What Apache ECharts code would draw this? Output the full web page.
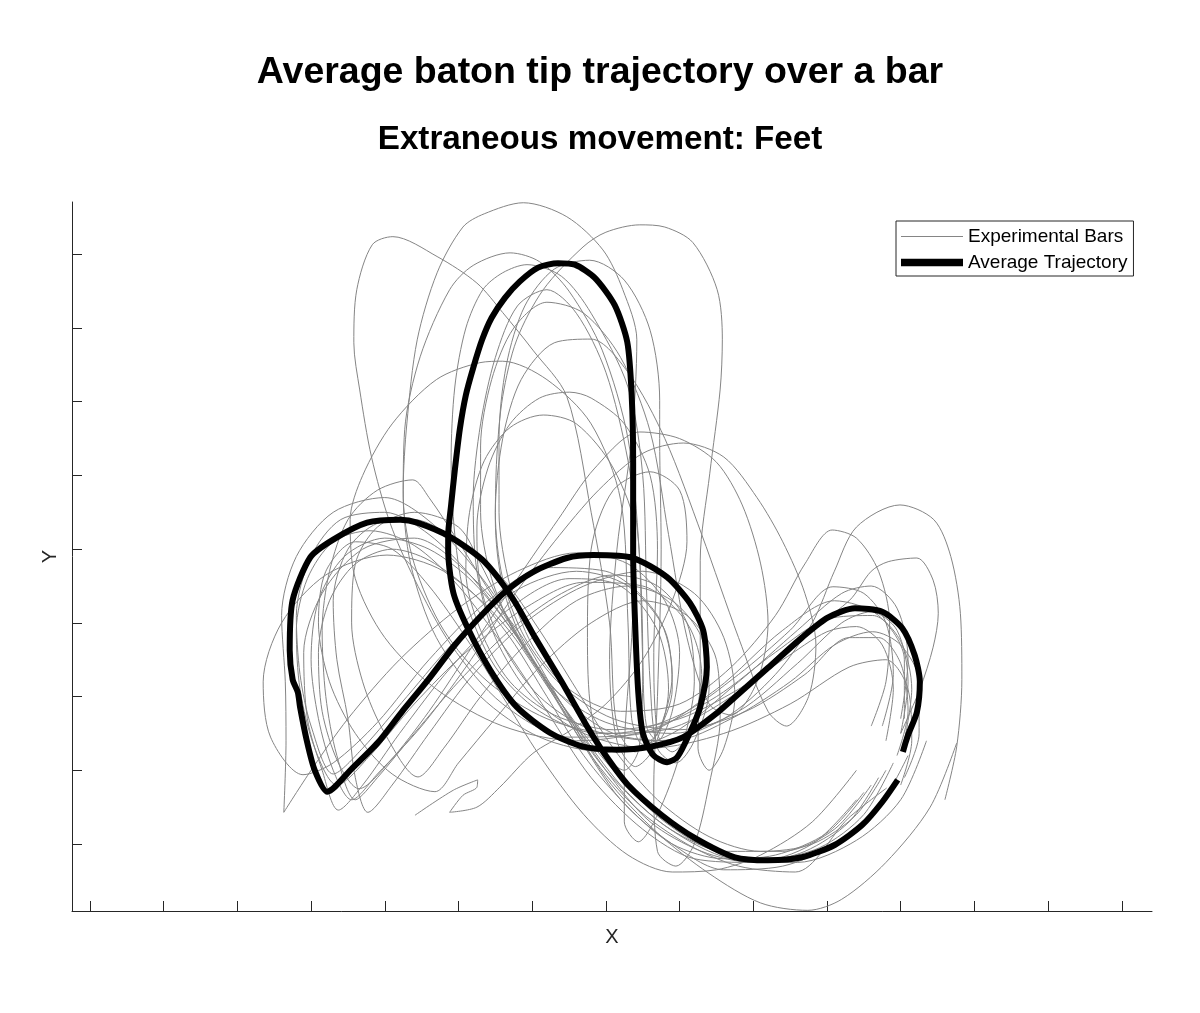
<!DOCTYPE html>
<html><head><meta charset="utf-8">
<script src="https://cdn.jsdelivr.net/npm/echarts@6/dist/echarts.min.js"></script>
<style>html,body{margin:0;padding:0;background:#fff}#c{width:1200px;height:1013px}</style>
</head><body><div id="c"></div>
<script>
const titleText = 'Average baton tip trajectory over a bar';
const subtitleText = 'Extraneous movement: Feet';
const legendNames = ['Experimental Bars', 'Average Trajectory'];
const xTicks = [0,10,20,30,40,50,60,70,80,90,100,110,120,130,140];
const yTicks = [0,10,20,30,40,50,60,70,80];
const xRange = [-2.44, 144.1];
const yRange = [-9.09, 87.1];

const average = [[109.6,8.7],[107.5,5.7],[104.8,2.6],[101.1,-0.1],[96.6,-1.8],[92.0,-2.2],[87.5,-1.8],[82.1,0.8],[77.6,3.9],[73.0,8.0],[69.9,12.1],[67.6,15.7],[64.0,22.0],[60.4,28.0],[57.3,33.4],[53.3,38.5],[48.8,41.7],[44.4,43.6],[42.1,44.0],[37.6,43.6],[33.0,41.3],[29.9,38.9],[27.5,33.1],[27.1,26.3],[27.5,22.3],[28.2,20.6],[28.5,18.6],[29.4,14.1],[30.5,10.0],[32.2,7.1],[35.6,10.3],[39.1,13.8],[42.3,17.9],[45.9,22.3],[49.5,27.0],[52.9,30.8],[56.3,34.2],[60.1,36.9],[64.7,38.8],[68.3,39.2],[73.7,38.8],[78.3,36.2],[81.4,32.7],[83.2,29.0],[83.7,24.0],[82.8,18.6],[81.4,15.1],[79.7,11.8],[78.3,11.1],[76.4,12.1],[75.0,15.1],[74.4,20.5],[74.0,29.0],[73.7,39.2],[73.7,51.8],[73.5,60.9],[72.9,68.1],[71.2,73.1],[68.5,76.8],[65.8,78.6],[63.5,78.8],[60.8,78.2],[58.3,76.3],[56.3,74.1],[54.5,71.4],[53.2,68.4],[52.0,64.6],[51.0,60.9],[50.2,56.4],[49.5,50.7],[49.0,46.0],[48.6,41.9],[48.6,39.9],[49.3,34.1],[51.2,29.4],[54.3,23.6],[57.9,18.6],[62.4,15.1],[66.9,13.2],[71.5,12.8],[76.0,13.2],[80.5,14.5],[85.1,17.8],[87.5,19.9],[92.0,23.9],[96.6,28.0],[100.1,30.7],[103.8,32.0],[107.5,31.5],[110.2,29.3],[111.9,25.6],[112.6,22.0],[112.2,17.9],[111.0,14.8],[110.3,12.5]];

const bar01 = [[113.5,14],[110,6],[104,0.5],[96,-2.5],[87,-2],[78,2.5],[70,10],[63,20],[56,30],[48,37],[40.3,39.2],[32,36.5],[26,30],[23.5,22],[24.5,14.5],[28.9,9.4],[33,11],[39,16.5],[46,25],[54,33],[62,37.5],[70,37],[77,31],[79,23],[77,15],[74,12.5],[71.5,16],[70.5,30],[68,45],[64.7,60.7],[60.1,67.0],[56.0,72.1],[52.5,76.1],[47.1,79.7],[41.1,82.4],[38.3,81.3],[36.2,75.2],[35.8,68],[36.6,61.6],[38.2,52.5],[40.7,43.6],[44,36],[49,27],[56,19],[65,14.5],[75,15],[85,21],[94,29],[101,33],[107,31],[110.5,25],[110.5,17]];
const bar02 = [[117.6,13.7],[114,5],[108,-2.5],[102,-7.5],[97.4,-9.0],[91,-8],[84,-4],[77,1.5],[70,9],[64,19],[58,29],[51,37],[44,41.5],[37,40],[31.5,34],[29,26],[29.5,17],[31.5,10],[33.7,4.6],[37,8],[42,15],[49,24],[57,32],[65,36],[72,35],[77,29],[78.5,21],[76.5,13],[74,10.5],[71.5,14],[70.5,25],[71.5,40],[73.5,55],[74.2,68.4],[72.3,75.2],[69.6,80.6],[64.7,85.1],[58.8,87.0],[53.5,85.5],[50.6,83.7],[47.1,77.5],[44.4,68.4],[43.0,57.1],[42.5,48.0],[43.5,38],[47,28],[53,20],[61,14.5],[70,12.5],[79,15],[88,22],[96,29],[102,34],[106,35],[109.5,32],[111,25],[110,17]];
const bar03 = [[108,10],[104,4],[98,0],[91,-1],[84,1],[77,6],[71,13],[66,21],[61,29],[56,36],[50,41],[44,44],[39,43.5],[35,40],[33,33],[33.5,25],[35,17],[36,9],[37.7,4.3],[41,8],[46,15],[52,23],[59,30],[67,35],[75,37],[82,34],[86,28],[87.5,20],[86,13],[84,10],[82.5,13],[82.8,25],[82.8,38.5],[84.1,50.3],[85.5,61.6],[85.8,68.4],[85.1,75.2],[81.8,81.6],[78,83.7],[74.6,84.0],[70,83],[66.9,81.0],[61.5,75.2],[57.9,68.4],[56.0,60.7],[55.2,52.5],[55,44],[56,35],[59,27],[64,20],[71,15],[79,14],[87,17],[95,22],[101,27],[106.2,28.8],[110,27],[112.5,22],[112.5,15],[110.5,9]];
const bar04 = [[111,12],[107,5],[101,0],[94,-3],[86,-3.5],[79,0],[72,6],[66,15],[60,25],[54,35],[47,43],[40,47],[33,45],[28,39],[26,31],[26.5,22],[26.6,14],[26.3,4.3],[30,10],[35,17],[42,25],[50,32],[58,37],[66,39.5],[73,38],[78,33],[80,26],[79,18],[77,14],[75.5,16],[75,25],[74.5,40],[73,55],[69.5,67],[65,75],[61,79],[57.0,80.2],[52,78.5],[48.8,75.2],[44.8,66.1],[42.7,56.2],[42.5,47],[44,38],[48,29],[54,22],[62,17],[71,15],[80,17.5],[88,23],[95,29],[100.8,34.9],[105,34],[108,30],[109,23],[107.5,16]];
const bar05 = [[108.1,7.6],[102.9,3.5],[95.7,-3.8],[88,-3],[81,0],[74,5],[68,12],[62.5,21],[57,30],[53,38],[50,43],[44,45],[39,43],[36,38],[35.5,30],[37,22],[40,15],[44.5,9.1],[48,13],[53,20],[59,27],[66,33],[73,35],[79,33],[83,28],[84,21],[82,14],[79.5,11],[77,13],[76,22],[75.5,35],[75,50],[73,62],[68,72],[64,77],[59.3,78.6],[56,77.5],[53.3,75.2],[51,70],[49.5,62],[49,52],[49.5,42],[51,33],[55,24],[61,18],[69,15],[78,15.5],[87,20],[95,27],[103,33],[106,37],[108.3,38.3],[112.2,38.8],[114.4,35.8],[115.1,31.3],[114.4,26.7],[112.6,21],[110,15]];
const bar06 = [[104,10],[98,3],[91,-1.5],[85,-3.5],[79,-3.8],[73,-1.5],[67,4],[61,12],[56,20],[51,28],[46,35],[41,40],[36,41],[32,37],[31,30],[32.5,22],[36,15],[41,9.5],[46.8,7.1],[50,11],[55,17],[61,24],[68,30],[75,33],[81,31],[85,25],[85.5,17],[84,8],[82,0],[79.5,-3],[77,-1],[76.5,8],[77,20],[77.5,40],[77.3,55],[77.3,60.2],[76,69.7],[72.5,76.5],[67.8,79.2],[63,78],[59,73],[56.5,65],[55.5,55],[55.5,45],[57,35],[60,27],[65,21],[72,18],[80,19],[87,24],[93,31],[97,38],[100.7,42.6],[104,41.5],[107,37],[108.5,30],[108,22],[106,16]];
const bar07 = [[44.1,3.9],[49.3,7.3],[52.6,8.7],[52.5,7.7],[50.6,6.6],[48.8,4.3],[52.5,5.0],[55.6,7.7],[60.1,12.3],[64.7,15.1],[70,19],[75,25],[79,33],[81,41],[80,48],[76,50.5],[71,48],[68,40],[67.5,28],[68,18],[70,12],[72.5,10],[74.5,13],[75,25],[74.5,40],[73,52],[70,64],[66,72],[62,75.2],[58,73],[55,66],[53,57],[52,47],[52.5,37],[55,28],[60,20],[67,15],[76,13],[86,15],[95,19],[103,24],[108,25],[111,21],[111.5,14],[110,8]];
const bar08 = [[106,8],[101,2],[94,-1],[86,-1],[78,3],[71,10],[64,19],[58,28],[52,36],[46,42],[40,45],[34,44],[30,39],[28,31],[28.5,23],[30,16],[33,9.5],[37,13],[43,20],[50,28],[58,34.5],[66,37],[73,35],[78,29],[79,21],[77,15],[75,13.5],[73.5,17],[73,30],[72,46.7],[68,57],[62,63],[56,65.5],[52.9,65.3],[47,63],[41,57],[37,50],[35.3,44],[36,36],[40,28],[47,21],[56,16],[66,14],[76,15.5],[85,20],[93,26],[100,30.5],[106.2,31],[110,27.5],[111.5,21],[110.5,14]];
const bar09 = [[104,6],[98,0],[90,-2.5],[82,-2],[75,2],[68,9],[62,18],[56,27],[50,35],[44,40.5],[38,42.5],[33,41],[29.5,36],[28,29],[28.5,21],[30.5,13],[33.5,8],[38,12],[44,19],[51,26],[59,32],[67,35.5],[75,35],[81,30],[83,23],[81.5,15.5],[79,12.5],[77,15],[76.5,26],[77,40],[76,50],[72.5,57],[68,60.5],[65.1,61.3],[61,60.5],[57,57],[54,51],[52.5,43],[53,35],[56,27],[61,20],[68,15.5],[77,14],[86,17],[93,23],[98,30],[101,37],[104,43],[109.9,46.0],[114.5,44],[116.8,39],[118.1,31.3],[118.3,22.3],[117.6,13.2],[116,6]];
const bar10 = [[109,11],[105,4],[99,-0.5],[92,-2],[85,-1],[78,2.5],[72,8],[66,16],[60,25],[55,33],[50,41],[46,47],[43.8,49.4],[39,48],[35,44],[32.5,37],[31.5,29],[32,20],[33.5,12],[36,6],[39,9],[44,15],[50,22],[57,29],[64,34],[71,36.5],[77,35],[81,30],[82,22],[80,12],[77,4],[74.4,0.3],[72.5,3],[72.5,12],[73.5,28],[74,42],[71,51],[66,57],[61.5,58.2],[57,56.5],[53.5,52],[51.5,45],[51,37],[53,29],[57,22],[63,17.5],[71,15.5],[80,17],[88,21],[94,25],[100,28.8],[104,29.5],[107.5,27],[109,21],[108,14]];
const bar11 = [[107,9],[103,3],[97,-1],[90,-2.5],[83,-1],[76,3],[70,10],[64,19],[58,28],[52,35.5],[46,40],[40,41.5],[34.5,39],[31,33],[30,25],[31,17],[33,10],[35.5,6],[39,9.5],[45,16],[51,24],[57,33],[63,41],[69,48],[75,53],[80.5,54.4],[86,52.5],[90.5,47],[94,41],[97,34],[98.5,27],[97.5,20],[94.5,16],[92,18],[88,28],[83,42],[78,55],[73,64],[68,68.5],[63,68],[58.5,63],[56,55],[55,45],[56,36],[59,28],[64,21.5],[71,17],[80,15.5],[89,18],[97,23],[103,28],[107,28],[110,24.5],[111,18],[109.5,12]];
const bar12 = [[105,7],[100,1.5],[93,-1.5],[86,-2],[79,0],[73,5],[67,12],[62,20],[57,28],[52,34],[46,38.5],[41,40],[36,38],[32.5,33],[31,26],[31.5,18],[33.7,11],[36.5,7.5],[40.5,11],[46,18],[52,27],[58,36],[63.5,44],[68.5,51],[74.6,55.9],[80,55],[85,51.8],[88.5,46],[91,38],[92,30],[90.5,22],[87,17.5],[84,19],[81,28],[78.5,42],[76,56],[72,66],[67,72],[62,73.5],[57.5,70],[54.5,63],[53,54],[53,45],[54.5,36],[58,28],[63,21],[70,16.5],[79,15],[88,18],[96,24.5],[102,30],[106,31.5],[109.5,29],[111,22],[110,15]];

const experimentalBars = [bar01,bar02,bar03,bar04,bar05,bar06,bar07,bar08,bar09,bar10,bar11,bar12];

const GRAY = '#858585';
const AXIS = '#262626';
const FONT = 'Liberation Sans, Arial, sans-serif';

const series = experimentalBars.map(d => ({
  type: 'line', name: legendNames[0], data: d,
  showSymbol: false, symbol: 'none', smooth: 0.3, silent: true,
  lineStyle: { color: GRAY, width: 1 }, itemStyle: { color: GRAY }
}));
series.push({
  type: 'line', name: legendNames[1], data: average,
  showSymbol: false, symbol: 'none', smooth: 0.25, silent: true,
  lineStyle: { color: '#000', width: 6, join: 'round' }, itemStyle: { color: '#000' }
});

const chart = echarts.init(document.getElementById('c'), null, { renderer: 'canvas' });
chart.setOption({
  animation: false,
  backgroundColor: '#fff',
  title: [
    { text: titleText, left: 'center', top: 49, padding: 5,
      textStyle: { fontFamily: FONT, fontSize: 37.5, fontWeight: 'bold', color: '#000', lineHeight: 38 } },
    { text: subtitleText, left: 'center', top: 118, padding: 5,
      textStyle: { fontFamily: FONT, fontSize: 33.2, fontWeight: 'bold', color: '#000', lineHeight: 34 } }
  ],
  legend: {
    show: true,
    orient: 'vertical', left: 896, top: 221,
    padding: [6, 6, 4, 5], itemGap: 7, itemWidth: 62, itemHeight: 14,
    borderColor: AXIS, borderWidth: 1, backgroundColor: '#fff',
    textStyle: { fontFamily: FONT, fontSize: 19, color: '#000' },
    selectedMode: false,
    data: [
      { name: legendNames[0], icon: 'path://M0,0L0.01,0L0,0.01ZM62,14L61.99,14L62,13.99ZM0,6.4L62,6.4L62,7.6L0,7.6Z',
        itemStyle: { color: GRAY, borderWidth: 0 } },
      { name: legendNames[1], icon: 'path://M0,0L0.01,0L0,0.01ZM62,14L61.99,14L62,13.99ZM0,3.3L62,3.3L62,10.7L0,10.7Z',
        itemStyle: { color: '#000', borderWidth: 0 } }
    ]
  },
  grid: { left: 72, right: 48, top: 202, bottom: 102, containLabel: false },
  xAxis: {
    type: 'value', min: xRange[0], max: xRange[1],
    name: 'X', nameLocation: 'middle', nameGap: 16,
    nameTextStyle: { fontFamily: FONT, fontSize: 20, color: '#262626' },
    axisLine: { show: true, onZero: false, lineStyle: { color: AXIS, width: 1 } },
    axisTick: { show: true, inside: true, length: 10, customValues: xTicks, lineStyle: { color: AXIS, width: 1 } },
    axisLabel: { show: false },
    splitLine: { show: false }
  },
  yAxis: {
    type: 'value', min: yRange[0], max: yRange[1],
    name: 'Y', nameLocation: 'middle', nameGap: 12,
    nameTextStyle: { fontFamily: FONT, fontSize: 20, color: '#262626' },
    axisLine: { show: true, onZero: false, lineStyle: { color: AXIS, width: 1 } },
    axisTick: { show: true, inside: true, length: 10, customValues: yTicks, lineStyle: { color: AXIS, width: 1 } },
    axisLabel: { show: false },
    splitLine: { show: false }
  },
  series: series
});
</script></body></html>
